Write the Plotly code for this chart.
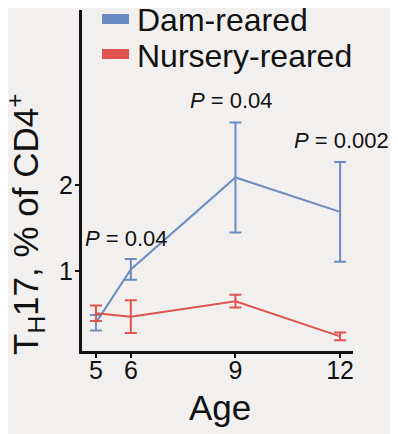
import plotly.graph_objects as go

ages = [5, 6, 9, 12]
dam_mean = [0.40, 1.02, 2.09, 1.69]
dam_err = [0.09, 0.12, 0.64, 0.58]
nur_mean = [0.51, 0.47, 0.65, 0.24]
nur_err = [0.09, 0.19, 0.075, 0.045]
series_names = ["Dam-reared", "Nursery-reared"]
p_labels = ["<i>P</i> = 0.04", "<i>P</i> = 0.04", "<i>P</i> = 0.002"]
p_x = [5.88, 8.89, 12.03]
p_y = [1.38, 2.99, 2.52]
x_ticks = [5, 6, 9, 12]
y_ticks = [1, 2]

BLUE = "#6a8cc2"
RED = "#e0534e"
BG = "#f2f0ef"
FONT = "Liberation Sans"
INK = "#111111"

fig = go.Figure()
for mean, err, col in [(dam_mean, dam_err, BLUE), (nur_mean, nur_err, RED)]:
    fig.add_trace(go.Scatter(
        x=ages, y=mean, mode="lines",
        line=dict(color=col, width=2),
        error_y=dict(type="data", array=err, visible=True, color=col, thickness=2, width=6),
        showlegend=False,
    ))

annotations = []
for t, x, y in zip(p_labels, p_x, p_y):
    annotations.append(dict(x=x, y=y, xref="x", yref="y", text=t, showarrow=False,
                            font=dict(family=FONT, size=22, color=INK),
                            xanchor="center", yanchor="middle"))

# plot area in page pixels: x 82..353, y 10..351
W, H = 271.0, 341.0
def px(x):
    return (x - 82) / W
def py(y):
    return (351 - y) / H

shapes = []
leg_rows = [(14, 24, BLUE), (49, 59, RED)]
for (y0, y1, col), name in zip(leg_rows, series_names):
    shapes.append(dict(type="rect", xref="paper", yref="paper",
                       x0=px(102), x1=px(129), y0=py(y1), y1=py(y0),
                       fillcolor=col, line=dict(width=0)))
    annotations.append(dict(x=px(135), y=py((y0 + y1) / 2 + 1.5), xref="paper", yref="paper",
                            text=name, showarrow=False, xanchor="left", yanchor="middle",
                            font=dict(family=FONT, size=32, color=INK)))

# y-axis title
annotations.append(dict(x=px(25), y=py(224), xref="paper", yref="paper",
                        text="T<sub>H</sub>17, % of CD4<sup>+</sup>", textangle=-90,
                        showarrow=False, xanchor="center", yanchor="middle",
                        font=dict(family=FONT, size=35, color=INK)))
# x-axis title
annotations.append(dict(x=px(220), y=py(407), xref="paper", yref="paper",
                        text="Age", showarrow=False, xanchor="center", yanchor="middle",
                        font=dict(family=FONT, size=35, color=INK)))

# the page body has an 8px margin, so the figure is drawn 8px in from the window edge
OFF = 8
fig.update_layout(
    width=398 - OFF, height=434 - OFF,
    margin=dict(l=82 - OFF, r=45, t=10 - OFF, b=83, autoexpand=False),
    paper_bgcolor=BG, plot_bgcolor=BG,
    shapes=shapes, annotations=annotations,
    xaxis=dict(range=[4.6, 12.37], tickvals=x_ticks, ticktext=[str(v) for v in x_ticks],
               showgrid=False, zeroline=False, showline=True, linecolor=INK, linewidth=3,
               ticks="outside", ticklen=4, tickwidth=1.5, tickcolor=INK,
               ticklabelstandoff=-9,
               tickfont=dict(family=FONT, size=25, color=INK)),
    yaxis=dict(range=[0.07, 4.04], tickvals=y_ticks, ticktext=[str(v) for v in y_ticks],
               showgrid=False, zeroline=False, showline=True, linecolor=INK, linewidth=3,
               ticks="outside", ticklen=4, tickwidth=1.5, tickcolor=INK,
               ticklabelstandoff=-3,
               tickfont=dict(family=FONT, size=25, color=INK)),
)

fig.write_html("out.html")
